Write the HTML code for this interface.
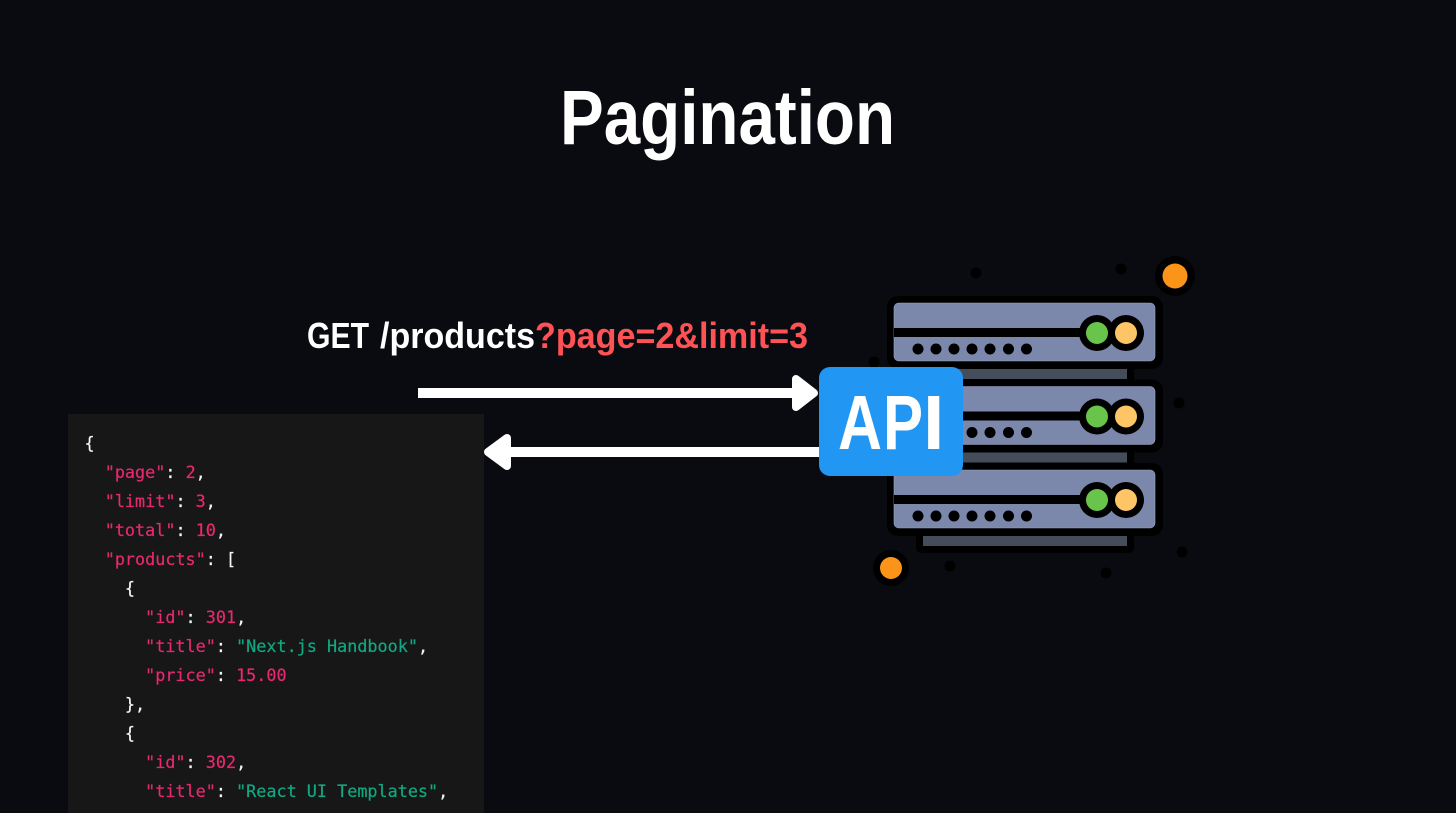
<!DOCTYPE html>
<html lang="en">
<head>
<meta charset="utf-8">
<title>Pagination</title>
<style>
html,body{margin:0;padding:0;background:#0a0b10;width:1456px;height:813px;overflow:hidden}
svg{position:absolute;left:0;top:0}
#panel{position:absolute;left:68px;top:414px;width:416px;height:399px;background:#171717}
pre{position:absolute;left:84.5px;top:429px;margin:0;font:16.8px/29px "DejaVu Sans Mono","Liberation Mono",monospace;color:#f5f5f5;-webkit-text-stroke:.2px currentColor}
.k{color:#e8286f}
.s{color:#10a982}
</style>
</head>
<body>
<div id="panel"></div>
<pre>{
  <span class="k">"page"</span>: <span class="k">2</span>,
  <span class="k">"limit"</span>: <span class="k">3</span>,
  <span class="k">"total"</span>: <span class="k">10</span>,
  <span class="k">"products"</span>: [
    {
      <span class="k">"id"</span>: <span class="k">301</span>,
      <span class="k">"title"</span>: <span class="s">"Next.js Handbook"</span>,
      <span class="k">"price"</span>: <span class="k">15.00</span>
    },
    {
      <span class="k">"id"</span>: <span class="k">302</span>,
      <span class="k">"title"</span>: <span class="s">"React UI Templates"</span>,
</pre>
<svg width="1456" height="813" viewBox="0 0 1456 813" xmlns="http://www.w3.org/2000/svg">
  <defs>
    <g id="server">
      <rect x="887" y="296" width="276" height="73" rx="11" fill="#000"/>
      <rect x="894" y="303" width="261" height="58" rx="5" fill="#7c88ab" stroke="#98a3c4" stroke-width=".6"/>
      <rect x="894" y="328" width="190" height="9" fill="#000"/>
      <circle cx="1097" cy="333" r="18" fill="#000"/>
      <circle cx="1126" cy="333" r="18" fill="#000"/>
      <circle cx="1097" cy="333" r="11" fill="#68c44a"/>
      <circle cx="1126" cy="333" r="11" fill="#fdc566"/>
      <g fill="#000">
        <circle cx="918" cy="349" r="5.5"/><circle cx="936" cy="349" r="5.5"/>
        <circle cx="954" cy="349" r="5.5"/><circle cx="972" cy="349" r="5.5"/>
        <circle cx="990" cy="349" r="5.5"/><circle cx="1008.500" cy="349" r="5.5"/>
        <circle cx="1026.500" cy="349" r="5.5"/>
      </g>
    </g>
  </defs>

  <text x="560" y="144" font-family="Liberation Sans, sans-serif" font-weight="700" font-size="77" fill="#fff" textLength="335" lengthAdjust="spacingAndGlyphs">Pagination</text>

  <g font-family="Liberation Sans, sans-serif" font-weight="700" font-size="36">
    <text x="307" y="348" fill="#fff" textLength="62" lengthAdjust="spacingAndGlyphs">GET</text>
    <text x="380" y="348" fill="#fff" textLength="155" lengthAdjust="spacingAndGlyphs">/products</text>
    <text x="535" y="348" fill="#ff5254" textLength="273" lengthAdjust="spacingAndGlyphs">?page=2&amp;limit=3</text>
  </g>

  <!-- scatter dots -->
  <g fill="#000">
    <circle cx="976" cy="273" r="5.500"/>
    <circle cx="1121" cy="269" r="5.500"/>
    <circle cx="1179" cy="403" r="5.500"/>
    <circle cx="1182" cy="552" r="5.500"/>
    <circle cx="1106" cy="573" r="5.500"/>
    <circle cx="950" cy="566" r="5.500"/>
    <circle cx="874" cy="362" r="5.500"/>
    <circle cx="1175" cy="276" r="20"/>
    <circle cx="891" cy="568" r="18"/>
  </g>
  <circle cx="1175" cy="276" r="12.500" fill="#fb9418"/>
  <circle cx="891" cy="568" r="11" fill="#fb9418"/>

  <!-- server stack -->
  <rect x="916" y="360" width="218" height="193" rx="5" fill="#000"/>
  <rect x="923" y="369" width="204" height="10" fill="#454c5a"/>
  <rect x="923" y="452.500" width="204" height="10" fill="#454c5a"/>
  <rect x="923" y="536" width="204" height="10" fill="#454c5a"/>
  <use href="#server"/>
  <use href="#server" y="83.500"/>
  <use href="#server" y="167"/>

  <!-- arrows -->
  <rect x="418" y="388" width="380" height="10" fill="#fff"/>
  <path d="M796 379 L814 393 L796 407 Z" fill="#fff" stroke="#fff" stroke-width="8" stroke-linejoin="round"/>
  <rect x="505" y="447" width="316" height="10" fill="#fff"/>
  <path d="M507 438 L488 452 L507 466 Z" fill="#fff" stroke="#fff" stroke-width="8" stroke-linejoin="round"/>

  <!-- API badge -->
  <rect x="819" y="367" width="144" height="109" rx="11" fill="#2196f3"/>
  <g font-family="Liberation Sans, sans-serif" font-weight="700" font-size="77" fill="#fff">
    <text x="838" y="449" textLength="44" lengthAdjust="spacingAndGlyphs">A</text>
    <text x="883" y="449" textLength="40" lengthAdjust="spacingAndGlyphs">P</text>
    <text x="923" y="449">I</text>
  </g>
</svg>
</body>
</html>
